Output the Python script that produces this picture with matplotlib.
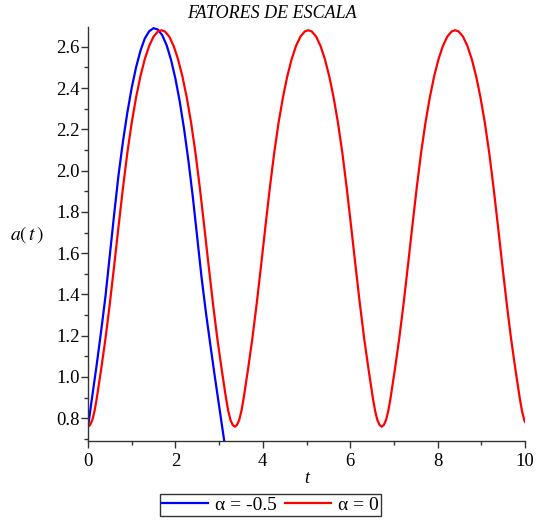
import numpy as np
import matplotlib
matplotlib.use('Agg')
import matplotlib.pyplot as plt
from matplotlib.ticker import MultipleLocator, FormatStrFormatter

# values
t_blue = [0.0, 0.1, 0.2, 0.3, 0.4, 0.5, 0.6, 0.7, 0.8, 0.9, 1.0, 1.1, 1.2, 1.3, 1.4, 1.5,
          1.6, 1.7, 1.8, 1.9, 2.0, 2.1, 2.2, 2.3, 2.4, 2.5, 2.6, 2.7, 2.8, 2.9, 3.0, 3.1, 3.2]
a_blue = [0.756, 0.91, 1.06, 1.22, 1.39, 1.59, 1.79, 1.98, 2.14, 2.28, 2.40, 2.50, 2.58, 2.64, 2.675, 2.69,
          2.683, 2.656, 2.607, 2.537, 2.446, 2.334, 2.20, 2.045, 1.87, 1.675, 1.48, 1.31, 1.155, 1.005, 0.86, 0.715, 0.575]

t_red = [0.0, 0.05, 0.1, 0.15, 0.2, 0.3, 0.4, 0.5, 0.6, 0.7, 0.8, 0.9, 1.0, 1.1, 1.2, 1.3, 1.4, 1.5, 1.6, 1.68,
         1.76, 1.86, 1.96, 2.06, 2.16, 2.26, 2.36, 2.46, 2.56, 2.66, 2.76, 2.86, 2.96, 3.06, 3.16, 3.21, 3.26, 3.31, 3.36,
         3.41, 3.46, 3.51, 3.56, 3.66, 3.76, 3.86, 3.96, 4.06, 4.16, 4.26, 4.36, 4.46, 4.56, 4.66, 4.76, 4.86, 4.96, 5.04,
         5.12, 5.22, 5.32, 5.42, 5.52, 5.62, 5.72, 5.82, 5.92, 6.02, 6.12, 6.22, 6.32, 6.42, 6.52, 6.57, 6.62, 6.67, 6.72,
         6.77, 6.82, 6.87, 6.92, 7.02, 7.12, 7.22, 7.32, 7.42, 7.52, 7.62, 7.72, 7.82, 7.92, 8.02, 8.12, 8.22, 8.32, 8.40,
         8.48, 8.58, 8.68, 8.78, 8.88, 8.98, 9.08, 9.18, 9.28, 9.38, 9.48, 9.58, 9.68, 9.78, 9.88, 9.93, 9.98, 10.0]
a_red = [0.759, 0.768, 0.792, 0.835, 0.895, 1.035, 1.185, 1.355, 1.540, 1.730, 1.915, 2.085, 2.231, 2.354, 2.457, 2.540, 2.604, 2.649, 2.674, 2.680,
         2.674, 2.649, 2.604, 2.540, 2.457, 2.354, 2.231, 2.085, 1.915, 1.730, 1.540, 1.355, 1.185, 1.035, 0.895, 0.835, 0.792, 0.768, 0.759,
         0.768, 0.792, 0.835, 0.895, 1.035, 1.185, 1.355, 1.540, 1.730, 1.915, 2.085, 2.231, 2.354, 2.457, 2.540, 2.604, 2.649, 2.674, 2.680,
         2.674, 2.649, 2.604, 2.540, 2.457, 2.354, 2.231, 2.085, 1.915, 1.730, 1.540, 1.355, 1.185, 1.035, 0.895, 0.835, 0.792, 0.768, 0.759,
         0.768, 0.792, 0.835, 0.895, 1.035, 1.185, 1.355, 1.540, 1.730, 1.915, 2.085, 2.231, 2.354, 2.457, 2.540, 2.604, 2.649, 2.674, 2.680,
         2.674, 2.649, 2.604, 2.540, 2.457, 2.354, 2.231, 2.085, 1.915, 1.730, 1.540, 1.355, 1.185, 1.035, 0.895, 0.835, 0.792, 0.782]

labels = ['α = -0.5', 'α = 0']

plt.rcParams['font.family'] = ['Liberation Serif', 'DejaVu Serif']
plt.rcParams['mathtext.fontset'] = 'stix'

fig = plt.figure(figsize=(5.43, 5.29), dpi=100)
ax = fig.add_axes([0.162, 0.1664, 0.805, 0.7831])

l1, = ax.plot(t_blue, a_blue, color='#0000ff', lw=1.6)
l2, = ax.plot(t_red, a_red, color='#ff0000', lw=1.6)

ax.set_xlim(0, 10)
ax.set_ylim(0.69, 2.697)

ax.spines['top'].set_visible(False)
ax.spines['right'].set_visible(False)
for s in ('left', 'bottom'):
    ax.spines[s].set_color('#333333')
    ax.spines[s].set_linewidth(1.0)

ax.xaxis.set_major_locator(MultipleLocator(2))
ax.xaxis.set_minor_locator(MultipleLocator(1))
ax.yaxis.set_major_locator(MultipleLocator(0.2))
ax.yaxis.set_minor_locator(MultipleLocator(0.1))
ax.yaxis.set_major_formatter(FormatStrFormatter('%.1f'))
ax.tick_params(which='major', length=5, width=1, color='#333333', labelsize=13.5)
ax.tick_params(which='minor', length=3, width=1, color='#333333')
ax.tick_params(axis='y', which='major', pad=1)
ax.tick_params(axis='x', which='major', pad=3.5)

# title sits centred on the whole figure
fig.text(0.5, 1 - 14 / 529, 'FATORES DE ESCALA', fontstyle='italic', fontsize=13,
         ha='center', va='center')
ax.set_xlabel('t', fontstyle='italic', fontsize=13, labelpad=0)
fig.text(27 / 543, 1 - 235 / 529, r'$a(\,t\,)$', fontsize=14, ha='center', va='center')

leg = fig.legend([l1, l2], labels, loc='center', bbox_to_anchor=(270.5 / 543, 1 - 505 / 529),
                 ncol=2, fontsize=14, handlelength=2.37, handletextpad=0.36, columnspacing=0.41,
                 frameon=True, fancybox=False, borderpad=0.12, borderaxespad=0)
leg.get_frame().set_edgecolor('black')
leg.get_frame().set_linewidth(1.0)

fig.savefig('out.png', dpi=100)
